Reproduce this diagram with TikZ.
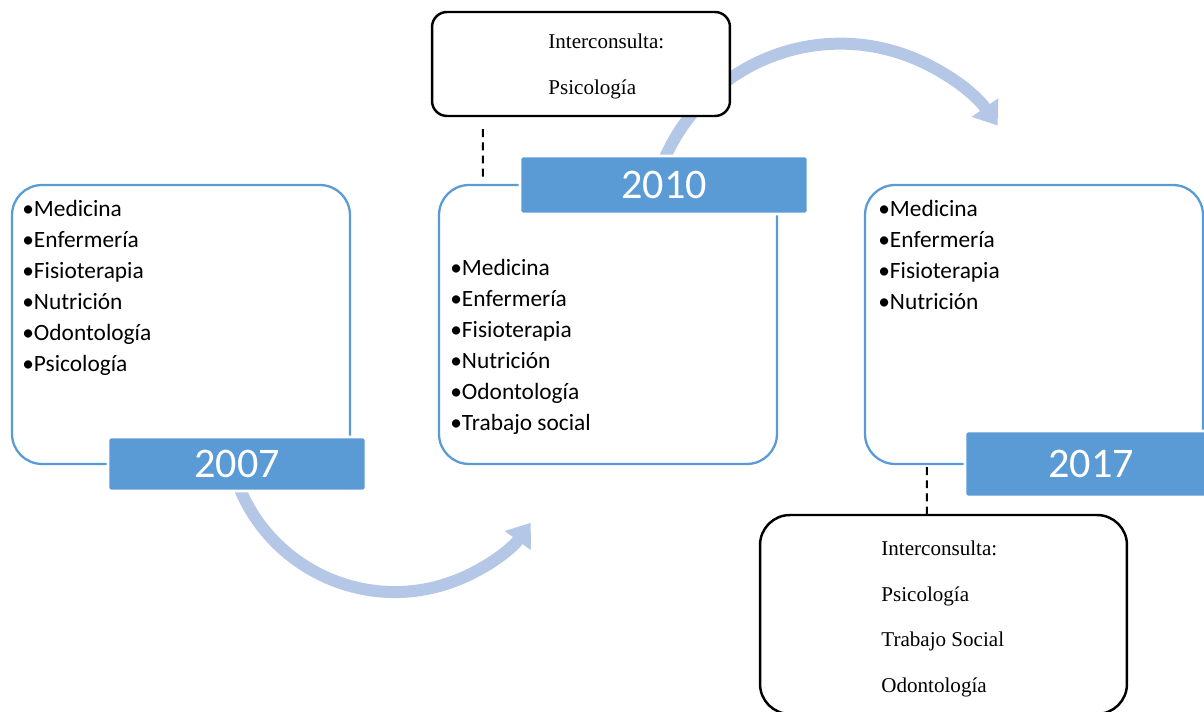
\documentclass[tikz,border=0pt]{standalone}
\usepackage{fontspec}
\setmainfont{Liberation Serif}
\newfontfamily\calibri{Carlito}
\usetikzlibrary{arrows.meta}
\pgfdeclarelayer{background}
\pgfsetlayers{background,main}

\definecolor{officeblue}{HTML}{5B9BD5}
\definecolor{flowblue}{HTML}{B4C7E7}

\begin{document}
\begin{tikzpicture}[
    x=0.02cm, y=-0.02cm,
    yearbox/.style={draw=officeblue, line width=1.3pt, rounded corners=0.6cm,
        fill=white, minimum width=6.76cm, minimum height=5.58cm},
    yearlabel/.style={fill=officeblue, draw=white, line width=1.5pt,
        rounded corners=0.06cm, text=white,
        font=\calibri\fontsize{24}{28}\selectfont},
    listtext/.style={anchor=north west, inner sep=0pt, align=left,
        font=\calibri\fontsize{13.3}{17.6}\selectfont},
    consultbox/.style={draw=black, line width=1.4pt, fill=white},
    consulttext/.style={anchor=north west, inner sep=0pt, align=left,
        font=\fontsize{12}{26}\selectfont},
    link/.style={line width=1.1pt, dash pattern=on 4.5pt off 3pt},
    flow/.style={flowblue, line width=0.24cm,
        -{Triangle[length=0.44cm, width=0.62cm]}},
]
\useasboundingbox (0,0) rectangle (1204,712);

% === Year boxes ===
\node[yearbox] (box07) at (181,324.5) {};
\node[yearbox] (box10) at (608,324.5) {};
\node[yearbox] (box17) at (1034,324.5) {};

% Lists
\node[listtext] (list07) at (22,200)
    {•Medicina\\•Enfermería\\•Fisioterapia\\•Nutrición\\•Odontología\\•Psicología};
\node[listtext] (list10) at (450,259)
    {•Medicina\\•Enfermería\\•Fisioterapia\\•Nutrición\\•Odontología\\•Trabajo social};
\node[listtext] (list17) at (878,200)
    {•Medicina\\•Enfermería\\•Fisioterapia\\•Nutrición};

% === Year labels ===
\node[yearlabel, minimum width=5.16cm, minimum height=1.08cm] (lab07) at (237,464) {2007};
\node[yearlabel, minimum width=5.76cm, minimum height=1.16cm] (lab10) at (664,185) {2010};
\node[yearlabel, minimum width=5.04cm, minimum height=1.32cm] (lab17) at (1091,464) {2017};

% === Interconsulta boxes ===
\node[consultbox, rounded corners=0.3cm, minimum width=5.96cm, minimum height=2.08cm]
    (ic10) at (581,64) {};
\node[consulttext] (ic10text) at (548,33.5) {Interconsulta:\\Psicología};

\node[consultbox, rounded corners=0.6cm, minimum width=7.34cm, minimum height=3.98cm]
    (ic17) at (943.5,614.5) {};
\node[consulttext] (ic17text) at (881,540.5)
    {Interconsulta:\\Psicología\\Trabajo Social\\Odontología};

% Dashed links
\draw[link, shorten <=0.24cm, shorten >=0.1cm]
    ([xshift=1.04cm]ic10.south west) -- ([xshift=0.9cm]box10.north west);
\draw[link, shorten <=0.04cm]
    ([xshift=1.26cm]box17.south west) -- ([xshift=3.36cm]ic17.north west);

% === Curved arrows (behind everything) ===
\begin{pgfonlayer}{background}
\draw[flow] ([yshift=-0.35cm]lab07.center) arc[start angle=200, end angle=324, radius=3.36cm];
\draw[flow] ([xshift=-0.08cm, yshift=0.3cm]lab10.center) arc[start angle=160, end angle=35, radius=3.84cm];
\end{pgfonlayer}

\end{tikzpicture}
\end{document}
